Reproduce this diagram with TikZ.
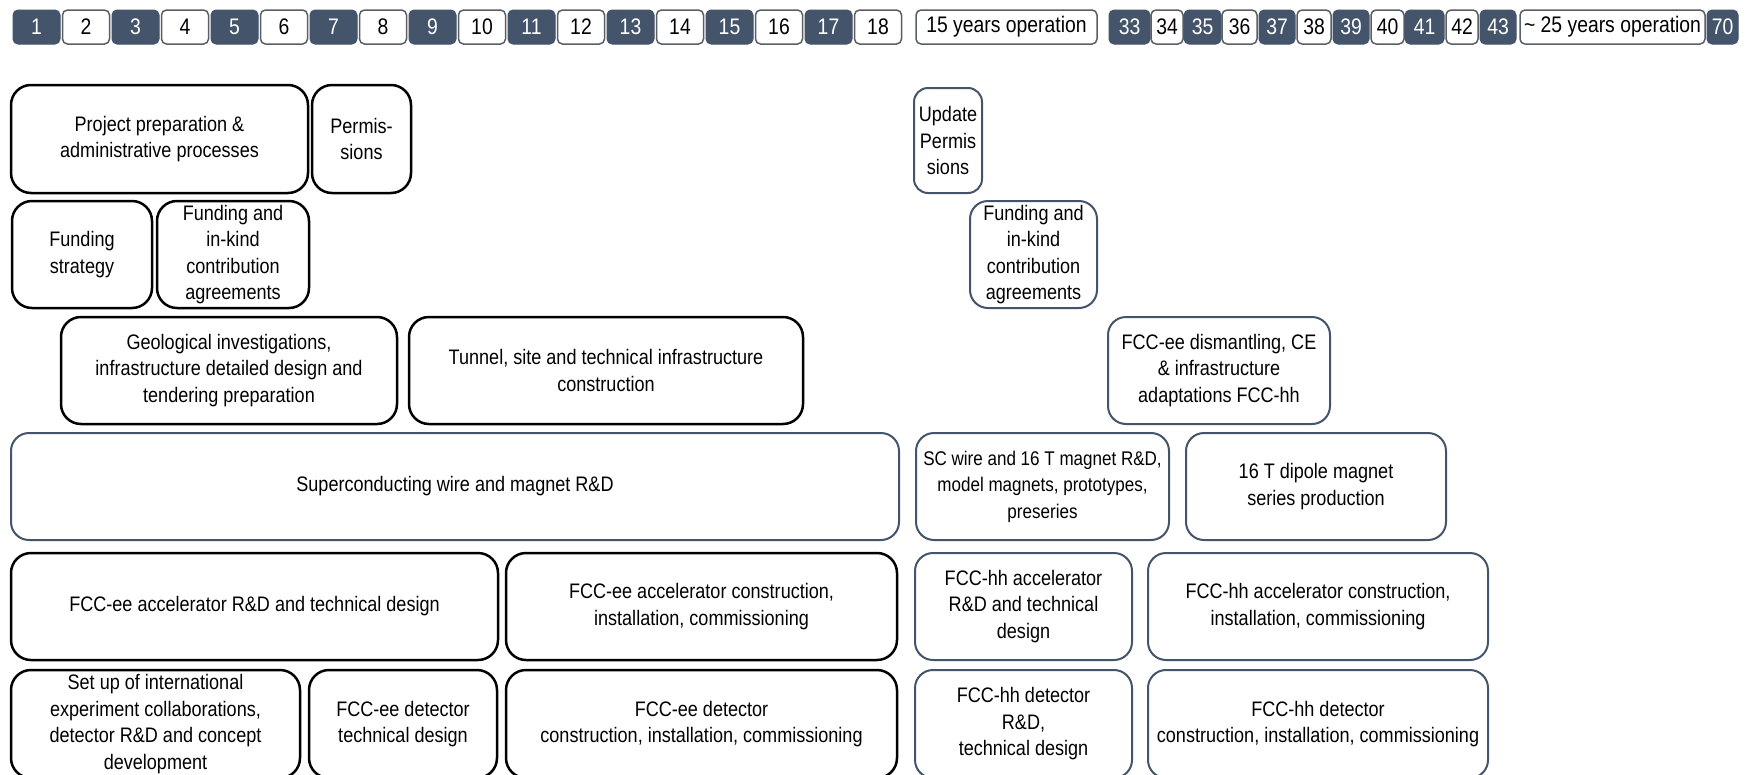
\documentclass[tikz,border=0pt]{standalone}
\usepackage{fontspec}
\setmainfont{Liberation Sans}[FakeStretch=0.86]
\definecolor{slate}{HTML}{44546A}
\definecolor{hline}{HTML}{5A5F66}
\newcommand\cfont{\fontsize{21}{26.5}\selectfont}
\newcommand\sfont{\fontsize{19.8}{26.5}\selectfont}
\newcommand\hfont{\fontsize{22.5}{24}\selectfont}
\newcommand\bx[7]{\node[#6, minimum width={#4-#2}, minimum height={#5-#3}] (#1) at ({(#2+#4)/2},{(#3+#5)/2}) {#7};}
\tikzset{
 lbox/.style={draw=black, line width=2.5pt, rounded corners=20pt, align=center, inner sep=0pt, font=\cfont, text=black},
 rbox/.style={draw=slate, line width=2pt, rounded corners=18pt, align=center, inner sep=0pt, font=\cfont, text=black},
 dk/.style={fill=slate, draw=slate, text=white, rounded corners=5pt, line width=1pt, font=\hfont, inner sep=0pt},
 wt/.style={fill=white, draw=hline, text=black, rounded corners=5pt, line width=1.5pt, font=\hfont, inner sep=0pt},
}
\begin{document}
\begin{tikzpicture}[x=1pt,y=-1pt]
\path[use as bounding box, clip] (0,0) rectangle (1748,774);
\fill[white] (0,0) rectangle (1748,774);
% header left
\foreach \n in {1,...,18}{
  \pgfmathsetmacro\xa{13+(\n-1)*49.5}
  \pgfmathsetmacro\xb{\xa+47}
  \pgfmathparse{isodd(\n)}
  \ifnum\pgfmathresult=1
    \bx{h\n}{\xa}{10}{\xb}{44}{dk}{\n}
  \else
    \bx{h\n}{\xa}{10}{\xb}{44}{wt}{\n}
  \fi
}
\bx{op15}{916}{10}{1097}{44}{wt}{15 years operation}
\foreach \n/\xa/\xb/\st in {33/1109/1150/dk,34/1151/1183/wt,35/1184/1221/dk,36/1222/1257/wt,37/1259/1295/dk,38/1297/1331/wt,39/1333/1369/dk,40/1371/1404/wt,41/1405/1444/dk,42/1446/1478/wt,43/1480/1516/dk}{
  \bx{h\n}{\xa}{10}{\xb}{44}{\st}{\n}
}
\bx{op25}{1520}{10}{1705}{44}{wt}{\textasciitilde\ 25 years operation}
\bx{h70}{1707}{10}{1738}{44}{dk}{70}
% row A
\bx{prep}{11}{85}{308}{193}{lbox}{Project preparation \&\\administrative processes}
\bx{perm}{312}{85}{411}{193}{lbox}{Permis-\\sions}
\bx{upd}{914}{88}{982}{193}{rbox, rounded corners=14pt}{Update\\Permis\\sions}
% row B
\bx{fstrat}{12}{201}{152}{308}{lbox}{Funding\\strategy}
\bx{fund}{157}{201}{309}{308}{lbox}{Funding and\\in-kind\\contribution\\agreements}
\bx{fundr}{970}{201}{1097}{308}{rbox}{Funding and\\in-kind\\contribution\\agreements}
% row C
\bx{geo}{61}{317}{397}{424}{lbox}{Geological investigations,\\infrastructure detailed design and\\tendering preparation}
\bx{tun}{409}{317}{803}{424}{lbox}{Tunnel, site and technical infrastructure\\construction}
\bx{dism}{1108}{317}{1330}{424}{rbox}{FCC-ee dismantling, CE\\\& infrastructure\\adaptations FCC-hh}
% row D
\bx{sc}{11}{433}{899}{540}{rbox}{Superconducting wire and magnet R\&D}
\bx{scw}{916}{433}{1169}{540}{rbox, font=\sfont}{SC wire and 16 T magnet R\&D,\\model magnets, prototypes,\\preseries}
\bx{dip}{1186}{433}{1446}{540}{rbox}{16 T dipole magnet\\series production}
% row E
\bx{eeacc}{11}{553}{498}{660}{lbox}{FCC-ee accelerator R\&D and technical design}
\bx{eecon}{506}{553}{897}{660}{lbox}{FCC-ee accelerator construction,\\installation, commissioning}
\bx{hhacc}{915}{553}{1132}{660}{rbox}{FCC-hh accelerator\\R\&D and technical\\design}
\bx{hhcon}{1148}{553}{1488}{660}{rbox}{FCC-hh accelerator construction,\\installation, commissioning}
% row F
\bx{setup}{11}{670}{300}{778}{lbox}{Set up of international\\experiment collaborations,\\detector R\&D and concept\\development}
\bx{eedet}{309}{670}{497}{778}{lbox}{FCC-ee detector\\technical design}
\bx{eedetc}{506}{670}{897}{778}{lbox}{FCC-ee detector\\construction, installation, commissioning}
\bx{hhdet}{915}{670}{1132}{778}{rbox}{FCC-hh detector\\R\&D,\\technical design}
\bx{hhdetc}{1148}{670}{1488}{778}{rbox}{FCC-hh detector\\construction, installation, commissioning}
\end{tikzpicture}
\end{document}
